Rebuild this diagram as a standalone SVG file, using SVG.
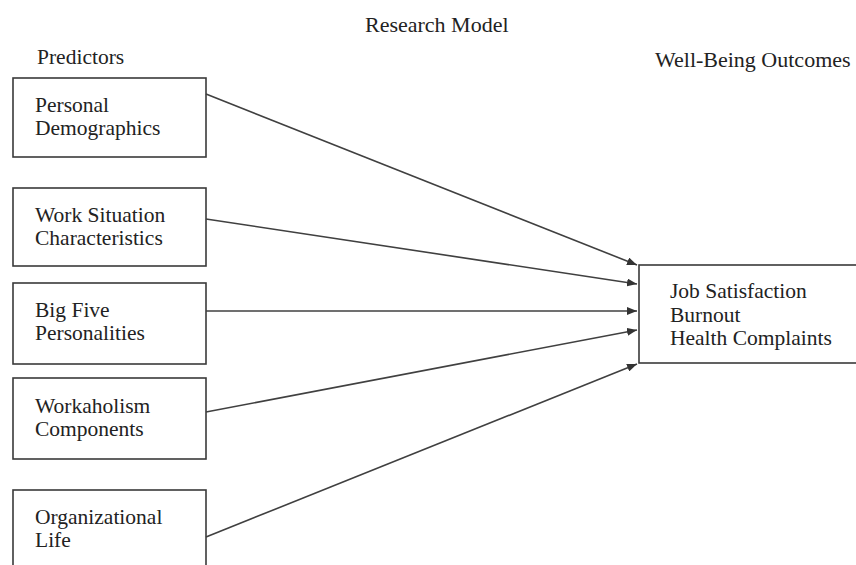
<svg xmlns="http://www.w3.org/2000/svg" width="856" height="565" viewBox="0 0 856 565">
<defs>
<style>
text { font-family: "Liberation Serif", "Times New Roman", serif; font-size: 21.5px; fill: #222; }
.title { font-size: 22px; }
.box { fill: #fff; stroke: #3a3a3a; stroke-width: 1.6; }
.conn { stroke: #404040; stroke-width: 1.6; fill: none; marker-end: url(#arrow); }
</style>
<marker id="arrow" viewBox="0 0 10 8" refX="10" refY="4" markerWidth="10" markerHeight="8" markerUnits="userSpaceOnUse" orient="auto">
<path d="M0,0 L10,4 L0,8 z" fill="#333"/>
</marker>
</defs>
<rect width="856" height="565" fill="#fff"/>
<text class="title" x="365" y="32">Research Model</text>
<text x="37" y="64">Predictors</text>
<text class="title" x="655" y="67">Well-Being Outcomes</text>

<g id="n1">
<rect class="box" x="13" y="78" width="193" height="79"/>
<text x="35" y="112">Personal</text>
<text x="35" y="135">Demographics</text>
</g>
<g id="n2">
<rect class="box" x="13" y="188" width="193" height="78"/>
<text x="35" y="222">Work Situation</text>
<text x="35" y="245">Characteristics</text>
</g>
<g id="n3">
<rect class="box" x="13" y="283" width="193" height="81"/>
<text x="35" y="317">Big Five</text>
<text x="35" y="340">Personalities</text>
</g>
<g id="n4">
<rect class="box" x="13" y="378" width="193" height="81"/>
<text x="35" y="413">Workaholism</text>
<text x="35" y="436">Components</text>
</g>
<g id="n5">
<rect class="box" x="13" y="490" width="193" height="90"/>
<text x="35" y="524">Organizational</text>
<text x="35" y="547">Life</text>
</g>
<g id="out">
<rect class="box" x="639" y="265" width="230" height="98"/>
<text x="670" y="298">Job Satisfaction</text>
<text x="670" y="322">Burnout</text>
<text x="670" y="345">Health Complaints</text>
</g>

<g id="connectors">
<line class="conn" x1="206" y1="94" x2="637" y2="265"/>
<line class="conn" x1="206" y1="219" x2="637" y2="284"/>
<line class="conn" x1="206" y1="311" x2="637" y2="311"/>
<line class="conn" x1="206" y1="412" x2="637" y2="330"/>
<line class="conn" x1="206" y1="537" x2="637" y2="364"/>
</g>
</svg>
